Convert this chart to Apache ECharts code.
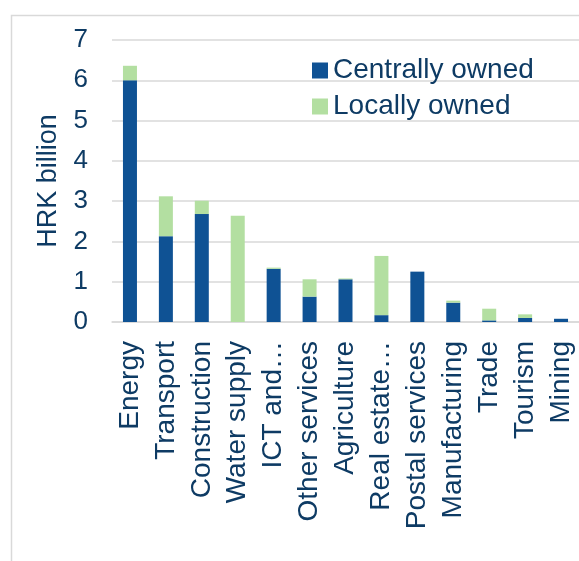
<!DOCTYPE html>
<html>
<head>
<meta charset="utf-8">
<script src="https://cdn.jsdelivr.net/npm/echarts@6/dist/echarts.min.js"></script>
<style>
  html, body { margin: 0; padding: 0; background: #ffffff; }
  #chart { width: 579px; height: 561px; }
</style>
</head>
<body>
<div id="chart"></div>
<script>
// Investment by sector, HRK billion
const categories = ['Energy', 'Transport', 'Construction', 'Water supply', 'ICT and\u2026',
  'Other services', 'Agriculture', 'Real estate\u2026', 'Postal services',
  'Manufacturing', 'Trade', 'Tourism', 'Mining'];
const centrallyOwned = [6.00, 2.13, 2.68, 0.00, 1.32, 0.63, 1.06, 0.17, 1.25, 0.48, 0.04, 0.10, 0.08];
const locallyOwned   = [0.36, 0.99, 0.33, 2.64, 0.03, 0.43, 0.02, 1.47, 0.00, 0.05, 0.29, 0.09, 0.00];
const yTicks = [0, 1, 2, 3, 4, 5, 6, 7];

const textColor = '#0E3B64';
const fontFamily = 'Liberation Sans, Arial, sans-serif';

const chart = echarts.init(document.getElementById('chart'), null, { renderer: 'canvas' });
chart.setOption({
  animation: false,
  backgroundColor: '#ffffff',
  graphic: [{
    type: 'rect',
    shape: { x: 11.5, y: 15.5, width: 620, height: 620 },
    style: { fill: 'none', stroke: '#D9D9D9', lineWidth: 1.5 },
    silent: true
  }],
  grid: { left: 112, right: -1, top: 40, height: 282, containLabel: false },
  legend: {
    orient: 'vertical',
    left: 307,
    top: 51,
    itemWidth: 16,
    itemHeight: 16,
    itemGap: 7,
    icon: 'rect',
    textStyle: { color: textColor, fontSize: 28, lineHeight: 29, fontFamily: fontFamily, padding: [0, 0, 0, 0] },
    data: ['Centrally owned', 'Locally owned']
  },
  xAxis: {
    type: 'category',
    data: categories,
    axisLine: { show: true, lineStyle: { color: '#D9D9D9', width: 1.5 } },
    axisTick: { show: false },
    axisLabel: {
      rotate: 90,
      interval: 0,
      margin: 19,
      color: textColor,
      fontSize: 28,
      fontFamily: fontFamily
    }
  },
  yAxis: {
    type: 'value',
    min: yTicks[0],
    max: yTicks[yTicks.length - 1],
    interval: 1,
    name: 'HRK billion',
    nameLocation: 'middle',
    nameGap: 50,
    nameRotate: 90,
    nameTextStyle: { color: textColor, fontSize: 27, fontFamily: fontFamily },
    axisLine: { show: false },
    axisTick: { show: false },
    axisLabel: { color: textColor, fontSize: 26, fontFamily: fontFamily, margin: 24 },
    splitLine: { lineStyle: { color: '#D9D9D9', width: 1.5 } }
  },
  series: [
    {
      name: 'Centrally owned',
      type: 'bar',
      stack: 'total',
      barWidth: 14,
      itemStyle: { color: '#0F5294' },
      data: centrallyOwned
    },
    {
      name: 'Locally owned',
      type: 'bar',
      stack: 'total',
      barWidth: 14,
      itemStyle: { color: '#B3DFA1' },
      data: locallyOwned
    }
  ]
});
</script>
</body>
</html>
